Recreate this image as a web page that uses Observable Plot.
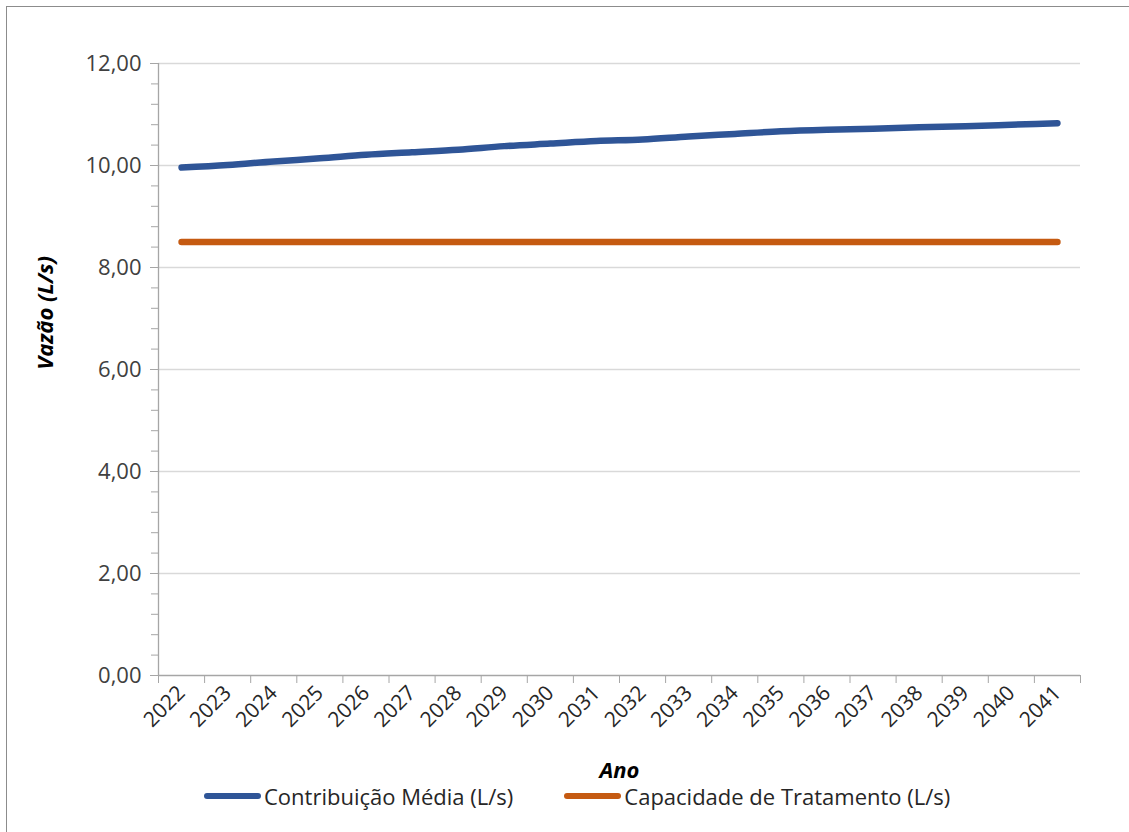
<!DOCTYPE html>
<html><head><meta charset="utf-8">
<script src="https://cdn.jsdelivr.net/npm/d3@7"></script>
<script src="https://cdn.jsdelivr.net/npm/@observablehq/plot@0.6"></script>
<style>
body{margin:0;background:#fff;font-family:"Open Sans",Lato,sans-serif;}
#wrap{position:relative;width:1129px;height:832px;overflow:hidden;}
#frame{position:absolute;left:6px;top:6px;width:1140px;height:840px;border:1px solid #8c8c8c;box-sizing:border-box;pointer-events:none;}
#chart{position:absolute;left:0;top:0;}
#legend{position:absolute;top:781px;left:204px;display:flex;align-items:center;font-size:22px;color:#262626;white-space:nowrap;}
.item{display:flex;align-items:center;}
.sw{width:57px;height:6px;border-radius:3px;margin-right:3px;}
</style>
</head><body>
<div id="wrap"><div id="chart"></div><div id="frame"></div><div id="legend"></div></div>
<script>
const years = [2022,2023,2024,2025,2026,2027,2028,2029,2030,2031,2032,2033,2034,2035,2036,2037,2038,2039,2040,2041];
const contribuicao = [9.96,10.01,10.08,10.14,10.21,10.26,10.31,10.38,10.43,10.48,10.51,10.57,10.62,10.67,10.70,10.72,10.75,10.77,10.80,10.83];
const capacidade = [8.5,8.5,8.5,8.5,8.5,8.5,8.5,8.5,8.5,8.5,8.5,8.5,8.5,8.5,8.5,8.5,8.5,8.5,8.5,8.5];
const seriesNames = ["Contribuição Média (L/s)", "Capacidade de Tratamento (L/s)"];
const seriesColors = ["#2F5597", "#C55A11"];
const yMajor = [0,2,4,6,8,10,12];
const yMinor = d3.range(0, 12.0001, 0.4);

const rows = years.flatMap((y,i)=>[
  {year:y, value:contribuicao[i], serie:seriesNames[0]},
  {year:y, value:capacidade[i], serie:seriesNames[1]}
]);
const xDomain = [years[0]-0.5, years[years.length-1]+0.5];
const boundaries = d3.range(xDomain[0], xDomain[1]+0.001, 1);
const fmt = d => d.toFixed(2).replace(".", ",");
const FONT = "'Open Sans', Lato, sans-serif";

const plot = Plot.plot({
  width:1129, height:785,
  marginTop:63, marginBottom:110, marginLeft:158, marginRight:49,
  style:{fontFamily:FONT, color:"#404040", background:"transparent"},
  x:{type:"linear", domain:xDomain, label:null},
  y:{domain:[0,12], label:null},
  color:{domain:seriesNames, range:seriesColors},
  marks:[
    Plot.gridY(yMajor.filter(d=>d>0), {stroke:"#d9d9d9", strokeOpacity:1, strokeWidth:1.3}),
    Plot.ruleX([xDomain[0]], {stroke:"#a6a6a6", strokeWidth:1.3}),
    Plot.ruleY([0], {stroke:"#a6a6a6", strokeWidth:1.3}),
    Plot.axisY(yMinor, {tickSize:7, tickFormat:()=>"", label:null, stroke:"#a6a6a6", strokeOpacity:1}),
    Plot.axisY(yMajor, {tickSize:8, tickPadding:9, tickFormat:fmt, fontSize:22, label:null, stroke:"#a6a6a6", strokeOpacity:1, fill:"#404040"}),
    Plot.axisX(boundaries, {tickSize:8, tickFormat:()=>"", label:null, stroke:"#a6a6a6", strokeOpacity:1}),
    Plot.axisX(years, {tickSize:0, tickPadding:14, tickFormat:d=>String(d), tickRotate:-45, fontSize:21, label:"Ano", labelAnchor:"center", labelArrow:"none", labelOffset:102, fill:"#262626"}),
    Plot.line(rows, {x:"year", y:"value", z:"serie", stroke:"serie", strokeWidth:6.5, strokeLinecap:"round", strokeLinejoin:"round", curve:"monotone-x"})
  ]
});
document.getElementById("chart").appendChild(plot);

const svg = d3.select(plot);
svg.selectAll("g[aria-label='x-axis label'] text").attr("font-weight","bold").attr("font-style","italic").attr("font-size",22).attr("fill","#000");
const yScale = plot.scale("y");
svg.append("text")
  .attr("transform", `translate(53,${yScale.apply(7.1)}) rotate(-90)`)
  .attr("text-anchor","middle")
  .attr("font-weight","bold").attr("font-style","italic").attr("font-size",22)
  .attr("fill","#000")
  .attr("font-family",FONT)
  .text("Vazão (L/s)");

const legend = d3.select("#legend");
seriesNames.forEach((n,i)=>{
  const it = legend.append("div").attr("class","item").style("margin-right", i===0 ? "51px" : "0");
  it.append("div").attr("class","sw").style("background", seriesColors[i]);
  it.append("span").text(n);
});
</script>
</body></html>
